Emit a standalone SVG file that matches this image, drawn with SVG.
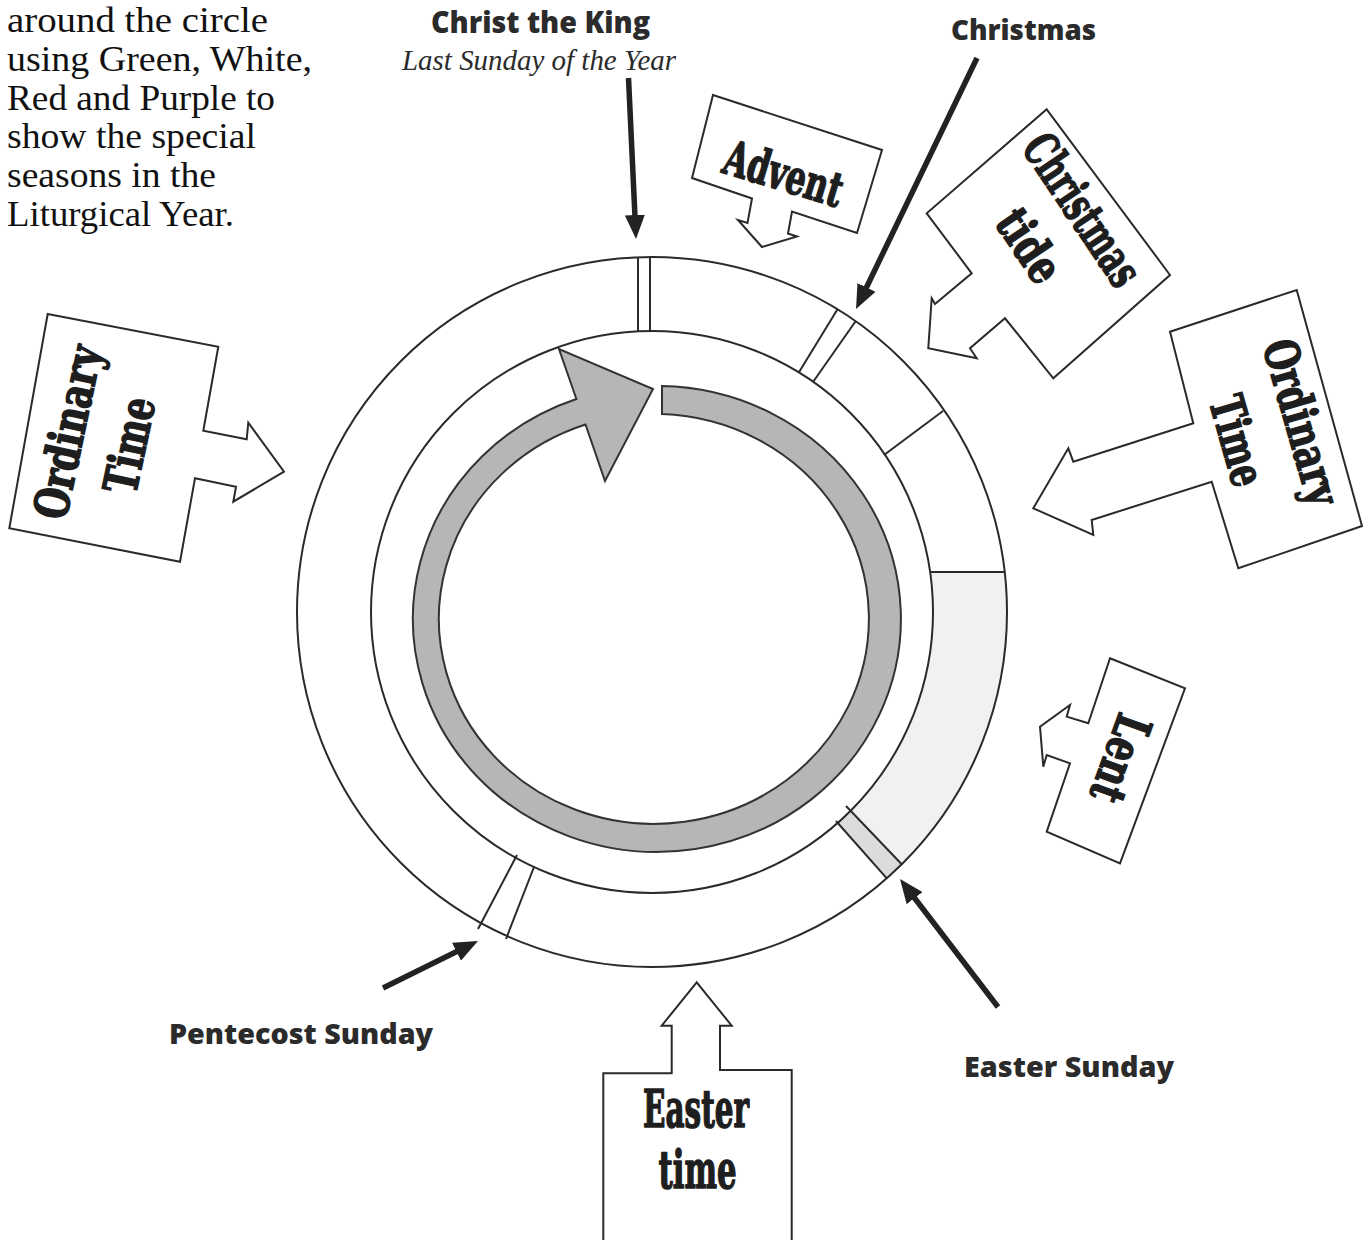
<svg xmlns="http://www.w3.org/2000/svg" width="1370" height="1240" viewBox="0 0 1370 1240">
<style>
.ln{fill:none;stroke:#2a2a2a;stroke-width:2}
.box{fill:#fff;stroke:#2a2a2a;stroke-width:2;stroke-linejoin:miter}
.ptr{fill:none;stroke:#222;stroke-width:5.5;marker-end:url(#ah)}
.para{font-family:"Liberation Serif","Times New Roman",serif;font-size:35px;fill:#111}
.lbl{font-family:"Open Sans","Noto Sans","Liberation Sans",sans-serif;font-weight:800;fill:#2b2b2b}
.big{font-family:"DejaVu Serif","Liberation Serif",serif;font-weight:bold;fill:#1e1e1e;stroke:#1e1e1e;stroke-width:1.6;stroke-linejoin:round}
</style>
<defs>
<marker id="ah" markerUnits="userSpaceOnUse" markerWidth="24" markerHeight="20" refX="2" refY="10" orient="auto" viewBox="0 0 24 20">
<path d="M0,0 L24,10 L0,20 Z" fill="#222"/>
</marker>
</defs>
<rect width="1370" height="1240" fill="#fff"/>

<g id="intro">
<text class="para" x="7" y="32" textLength="261" lengthAdjust="spacingAndGlyphs">around the circle</text>
<text class="para" x="7" y="71" textLength="305" lengthAdjust="spacingAndGlyphs">using Green, White,</text>
<text class="para" x="7" y="110" textLength="268" lengthAdjust="spacingAndGlyphs">Red and Purple to</text>
<text class="para" x="7" y="148" textLength="249" lengthAdjust="spacingAndGlyphs">show the special</text>
<text class="para" x="7" y="187" textLength="209" lengthAdjust="spacingAndGlyphs">seasons in the</text>
<text class="para" x="7" y="226" textLength="227" lengthAdjust="spacingAndGlyphs">Liturgical Year.</text>
</g>

<g id="wheel">
<path d="M930,572 L1004.7,572 A355 355 0 0 1 901.7,864.3 L849.7,811.7 A281 281 0 0 0 930,572 Z" fill="#f1f1f1"/>
<path d="M849.7,811.7 L901.7,864.3 A355 355 0 0 1 886.8,878.3 L837.8,822.8 A281 281 0 0 0 849.7,811.7 Z" fill="#dcdcdc"/>
<circle class="ln" cx="652" cy="612" r="355"/>
<circle class="ln" cx="652" cy="612" r="281"/>
<line class="ln" x1="638" y1="257" x2="638" y2="331"/>
<line class="ln" x1="650" y1="257" x2="650" y2="331"/>
<line class="ln" x1="798.8" y1="372.4" x2="837.5" y2="309.3"/>
<line class="ln" x1="813.2" y1="381.8" x2="855.6" y2="321.2"/>
<line class="ln" x1="884" y1="455" x2="943" y2="411"/>
<line class="ln" x1="930" y1="572" x2="1005" y2="572"/>
<line class="ln" x1="846" y1="806" x2="901.7" y2="864.3"/>
<line class="ln" x1="836" y1="821" x2="886.8" y2="878.3"/>
<line class="ln" x1="517" y1="855" x2="478" y2="929"/>
<line class="ln" x1="534" y1="867" x2="506" y2="939"/>
<path d="M662,386 A244 233 0 1 1 576.4,399 L559,349 L653,389 L605,481 L585.5,424.5 A215 205 0 1 0 662,414 Z" fill="#b6b6b6" stroke="#333" stroke-width="2" stroke-linejoin="miter"/>
</g>

<g id="ordinary-left">
<polygon class="box" points="47.7,314 218.3,346.7 203.3,430.7 246.7,439.3 248.3,422.7 284,471.7 233.3,501.7 236,486.7 195,478.3 180,561.7 9.3,528.3"/>
<g transform="translate(100.5,439) rotate(-78)">
<text class="big" x="0" y="-17" font-size="47" text-anchor="middle" textLength="176" lengthAdjust="spacingAndGlyphs">Ordinary</text>
<text class="big" x="0" y="46" font-size="47" text-anchor="middle" textLength="97" lengthAdjust="spacingAndGlyphs">Time</text>
</g>
</g>

<g id="advent">
<polygon class="box" points="713,95 882,150 857,233 792,211.5 788,233.5 797,236.5 762,247 738,220 747.5,223 752,198.5 692,178"/>
<g transform="translate(784,172.5) rotate(17)">
<text class="big" x="0" y="18" font-size="48" text-anchor="middle" textLength="122" lengthAdjust="spacingAndGlyphs">Advent</text>
</g>
</g>

<g id="christmastide">
<polygon class="box" points="1046.7,109.3 1170,275 1053.3,378.3 1005,318.3 970,348.3 976.7,358.3 928.3,348.3 931.7,298.3 935,304 971.7,273.3 926.7,213.3"/>
<g transform="translate(1057,227) rotate(56)">
<text class="big" x="0" y="-14" font-size="48" text-anchor="middle" textLength="172" lengthAdjust="spacingAndGlyphs">Christmas</text>
<text class="big" x="0" y="50" font-size="48" text-anchor="middle" textLength="78" lengthAdjust="spacingAndGlyphs">tide</text>
</g>
</g>

<g id="ordinary-right">
<polygon class="box" points="1296.7,290 1362,526 1238.3,568.3 1211.7,481.7 1091.7,520 1093.3,535 1033.3,508.3 1068.3,448.3 1073.3,461.7 1193.3,423.3 1170,331.7"/>
<g transform="translate(1267.5,432) rotate(74)">
<text class="big" x="0" y="-19" font-size="47" text-anchor="middle" textLength="170" lengthAdjust="spacingAndGlyphs">Ordinary</text>
<text class="big" x="0" y="48" font-size="47" text-anchor="middle" textLength="92" lengthAdjust="spacingAndGlyphs">Time</text>
</g>
</g>

<g id="lent">
<polygon class="box" points="1110,658.3 1185,688.3 1120,863.3 1046.7,831.7 1070,763.3 1046.7,755 1043.3,766.7 1040,726.7 1070,705 1066.7,716.7 1088.3,723.3"/>
<g transform="translate(1121.5,759) rotate(110)">
<text class="big" x="0" y="18" font-size="49" text-anchor="middle" textLength="90" lengthAdjust="spacingAndGlyphs">Lent</text>
</g>
</g>

<g id="easter-time">
<polygon class="box" points="603.3,1073.3 671.7,1073.3 671.7,1025.7 661.7,1025.7 696.7,982.3 731.7,1025.7 720,1025.7 720,1070 791.7,1070 791.7,1250 603.3,1250"/>
<text class="big" x="696" y="1127" font-size="52" text-anchor="middle" textLength="106" lengthAdjust="spacingAndGlyphs">Easter</text>
<text class="big" x="697.5" y="1188" font-size="52" text-anchor="middle" textLength="78" lengthAdjust="spacingAndGlyphs">time</text>
</g>

<g id="connectors">
<line class="ptr" x1="628.5" y1="78" x2="635" y2="217"/>
<line class="ptr" x1="977" y1="58" x2="865.6" y2="289.2"/>
<line class="ptr" x1="383" y1="988" x2="458.3" y2="950.8"/>
<line class="ptr" x1="998" y1="1007" x2="913.4" y2="896.5"/>
</g>

<g id="labels">
<text class="lbl" x="431" y="33" font-size="30" textLength="219" lengthAdjust="spacingAndGlyphs">Christ the King</text>
<text x="402" y="70" font-family="Liberation Serif,Times New Roman,serif" font-style="italic" font-size="29" fill="#2b2b2b" textLength="274" lengthAdjust="spacingAndGlyphs">Last Sunday of the Year</text>
<text class="lbl" x="951" y="40" font-size="29" textLength="145" lengthAdjust="spacingAndGlyphs">Christmas</text>
<text class="lbl" x="169" y="1044" font-size="28" textLength="264" lengthAdjust="spacingAndGlyphs">Pentecost Sunday</text>
<text class="lbl" x="964" y="1077" font-size="29" textLength="210" lengthAdjust="spacingAndGlyphs">Easter Sunday</text>
</g>
</svg>
